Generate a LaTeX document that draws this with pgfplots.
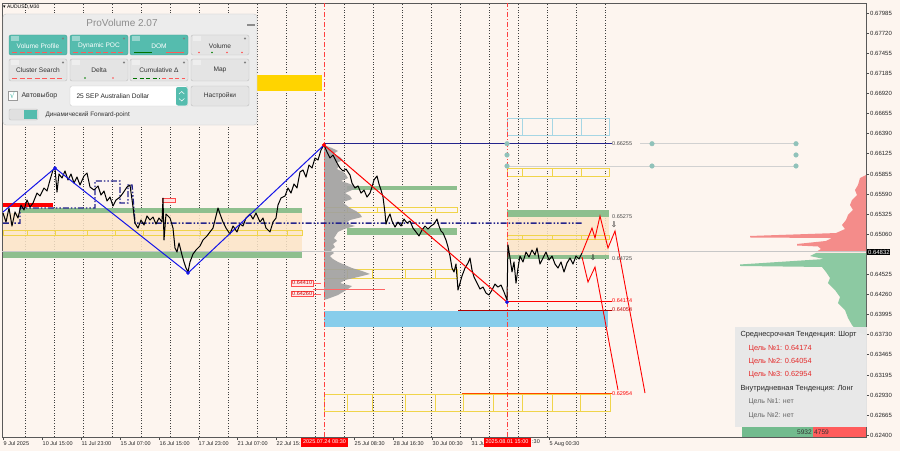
\documentclass[border=0pt]{standalone}
\usepackage{fontspec}
\setmainfont{Liberation Sans}
\newfontfamily\sym{DejaVu Sans}
\usepackage{pgfplots}
\pgfplotsset{compat=1.18}
\newcommand{\fs}[1]{\fontsize{#1}{#1}\selectfont}
\newcommand{\rect}[5]{\addplot[#5] coordinates {(#1,#2) (#3,#2) (#3,#4) (#1,#4)} -- cycle;}
\definecolor{bgc}{HTML}{FDF5EF}
\definecolor{gband}{HTML}{8EBF8E}
\definecolor{peach}{HTML}{FCE5C8}
\definecolor{ybox}{HTML}{F0D44A}
\definecolor{lblue}{HTML}{87CDEB}
\definecolor{lbbox}{HTML}{A6D6E4}
\definecolor{gold}{HTML}{FFD400}
\definecolor{navy}{HTML}{24248C}
\definecolor{zz}{HTML}{1414E8}
\definecolor{tealb}{HTML}{55BCAE}
\definecolor{dotc}{HTML}{90C2BA}
\definecolor{pgrey}{HTML}{A0A0A0}
\definecolor{vred}{HTML}{F48C8A}
\definecolor{vgreen}{HTML}{8CC9A2}
\definecolor{barg}{HTML}{72BB8E}
\definecolor{barr}{HTML}{FF5C5C}
\definecolor{panelbg}{HTML}{ECECEC}
\definecolor{btng}{HTML}{E4E4E4}
\definecolor{tred}{HTML}{E42A2A}
\begin{document}
\begin{tikzpicture}
\useasboundingbox (0,0) rectangle (900pt,451pt);
\fill[bgc] (0,0) rectangle (900pt,451pt);
\begin{axis}[
  at={(2pt,14pt)}, anchor=south west,
  scale only axis, width=864pt, height=434pt,
  xmin=2, xmax=866, ymin=0.62374, ymax=0.68117,
  clip=false, scaled y ticks=false,
  axis line style={black!65, line width=0.6pt},
  tick align=outside, major tick length=3pt,
  tick style={black!70, line width=0.5pt},
  xtick pos=left, ytick pos=right, yticklabel pos=right,
  xtick={3,42,81,120,159,198,237,276,354,393,432,471,549},
  xticklabels={9 Jul 2025,10 Jul 15:00,11 Jul 23:00,15 Jul 07:00,16 Jul 15:00,17 Jul 23:00,21 Jul 07:00,22 Jul 15:,25 Jul 08:30,28 Jul 16:30,30 Jul 00:30,31 Ju,5 Aug 00:30},
  xticklabel style={anchor=north west, font=\fs{5.5}, text=black!85, inner sep=1pt, xshift=-0.5pt},
  ytick={0.624,0.62665,0.6293,0.63195,0.63465,0.6373,0.63995,0.6426,0.64525,0.6506,0.65325,0.6559,0.65855,0.66125,0.6639,0.66655,0.6692,0.67185,0.67455,0.6772,0.67985},
  yticklabels={0.62400,0.62665,0.62930,0.63195,0.63465,0.63730,0.63995,0.64260,0.64525,0.65060,0.65325,0.65590,0.65855,0.66125,0.66390,0.66655,0.66920,0.67185,0.67455,0.67720,0.67985},
  yticklabel style={anchor=west, font=\fs{6}, text=black!85, inner sep=1pt},
  extra x ticks={25,54,83,112,141,170,199,228,257,286,315,344,373,402,431,460,489,518,547,576,605},
  extra x tick labels={},
  extra x tick style={grid=major, major tick length=0pt},
  major grid style={black!75, dash pattern=on 1pt off 1.6pt, line width=0.5pt},
]
% ---- zones
\rect{3}{0.65338}{302}{0.64822}{fill=peach, draw=none, fill opacity=0.85}
\rect{20}{0.65404}{302}{0.65338}{fill=gband, draw=none}
\rect{3}{0.64835}{302}{0.64743}{fill=gband, draw=none}
\rect{347}{0.65696}{457}{0.65642}{fill=gband, draw=none}
\rect{347}{0.65139}{457}{0.65047}{fill=gband, draw=none}
\rect{507}{0.65285}{609}{0.64782}{fill=peach, draw=none, fill opacity=0.85}
\rect{507}{0.65378}{609}{0.65285}{fill=gband, draw=none}
\rect{507}{0.64782}{609}{0.64729}{fill=gband, draw=none}
\rect{324}{0.64041}{608}{0.63829}{fill=lblue, draw=none}
\rect{255}{0.67164}{322}{0.66953}{fill=gold, draw=none}
% ---- yellow boxes, left row
\rect{3}{0.65113}{27}{0.65047}{draw=ybox}
\rect{27}{0.65113}{55}{0.65047}{draw=ybox}
\rect{55}{0.65113}{87}{0.65047}{draw=ybox}
\rect{87}{0.65113}{115}{0.65047}{draw=ybox}
\rect{115}{0.65113}{143}{0.65047}{draw=ybox}
\rect{143}{0.65113}{173}{0.65047}{draw=ybox}
\rect{173}{0.65113}{200}{0.65047}{draw=ybox}
\rect{200}{0.65113}{228}{0.65047}{draw=ybox}
\rect{228}{0.65113}{257}{0.65047}{draw=ybox}
\rect{257}{0.65113}{287}{0.65047}{draw=ybox}
\rect{287}{0.65113}{302}{0.65047}{draw=ybox}
% middle rows
\rect{325}{0.65417}{347}{0.65352}{draw=ybox}
\rect{347}{0.65417}{377}{0.65352}{draw=ybox}
\rect{377}{0.65417}{435}{0.65352}{draw=ybox}
\rect{435}{0.65417}{457}{0.65352}{draw=ybox}
\rect{325}{0.64597}{347}{0.64478}{draw=ybox}
\rect{347}{0.64597}{372}{0.64478}{draw=ybox}
\rect{372}{0.64597}{405}{0.64478}{draw=ybox}
\rect{405}{0.64597}{435}{0.64478}{draw=ybox}
\rect{435}{0.64597}{457}{0.64478}{draw=ybox}
% forecast boxes
\rect{507}{0.66596}{522}{0.66371}{draw=lbbox}
\rect{522}{0.66596}{552}{0.66371}{draw=lbbox}
\rect{552}{0.66596}{581}{0.66371}{draw=lbbox}
\rect{581}{0.66596}{609}{0.66371}{draw=lbbox}
\rect{507}{0.65934}{522}{0.65828}{draw=ybox}
\rect{522}{0.65934}{552}{0.65828}{draw=ybox}
\rect{552}{0.65934}{581}{0.65828}{draw=ybox}
\rect{581}{0.65934}{609}{0.65828}{draw=ybox}
\rect{507}{0.65047}{522}{0.64994}{draw=ybox}
\rect{522}{0.65047}{552}{0.64994}{draw=ybox}
\rect{552}{0.65047}{581}{0.64994}{draw=ybox}
\rect{581}{0.65047}{609}{0.64994}{draw=ybox}
% bottom row
\rect{324}{0.62943}{347}{0.62718}{draw=ybox}
\rect{347}{0.62943}{372}{0.62718}{draw=ybox}
\rect{372}{0.62943}{405}{0.62718}{draw=ybox}
\rect{405}{0.62943}{435}{0.62718}{draw=ybox}
\rect{435}{0.62943}{463}{0.62718}{draw=ybox}
\rect{463}{0.62943}{493}{0.62718}{draw=ybox}
\rect{493}{0.62943}{522}{0.62718}{draw=ybox}
\rect{522}{0.62943}{552}{0.62718}{draw=ybox}
\rect{552}{0.62943}{580}{0.62718}{draw=ybox}
\rect{580}{0.62943}{610}{0.62718}{draw=ybox}
% ---- volume profile (session)
\addplot[fill=pgrey, draw=none, fill opacity=0.9] coordinates {(324,0.66238)(332,0.66198)(338,0.66159)(333,0.66119)(340,0.66079)(343,0.66039)(336,0.65999)(339,0.65960)(337,0.65920)(343,0.65881)(346,0.65841)(348,0.65801)(341,0.65762)(350,0.65722)(357,0.65682)(352,0.65642)(345,0.65602)(350,0.65563)(352,0.65523)(343,0.65483)(346,0.65444)(350,0.65404)(356,0.65364)(360,0.65325)(362,0.65285)(350,0.65245)(346,0.65205)(355,0.65166)(344,0.65126)(338,0.65087)(336,0.65047)(334,0.65007)(337,0.64968)(333,0.64928)(335,0.64888)(331,0.64848)(334,0.64808)(330,0.64769)(333,0.64729)(338,0.64690)(345,0.64650)(352,0.64610)(362,0.64571)(370,0.64531)(358,0.64491)(345,0.64451)(340,0.64411)(352,0.64372)(348,0.64332)(343,0.64293)(338,0.64253)(330,0.64213)(324,0.64187)} -- cycle;
% ---- right-side profile
\addplot[fill=vred, draw=none] coordinates {(866,0.65841)(860,0.65801)(858,0.65709)(855,0.65642)(857,0.65576)(852,0.65510)(850,0.65444)(853,0.65378)(848,0.65312)(846,0.65245)(842,0.65179)(845,0.65126)(836,0.65073)(750,0.65034)(750,0.65014)(832,0.65007)(826,0.64968)(797,0.64928)(797,0.64908)(818,0.64895)(821,0.64862)(816,0.64822)(866,0.64822)} -- cycle;
\addplot[fill=vgreen, draw=none] coordinates {(866,0.64808)(816,0.64808)(810,0.64769)(824,0.64729)(740,0.64657)(740,0.64637)(822,0.64624)(826,0.64558)(830,0.64478)(828,0.64411)(835,0.64319)(840,0.64226)(838,0.64147)(845,0.64054)(848,0.63949)(852,0.63856)(858,0.63763)(866,0.63723)} -- cycle;
% ---- verticals
\addplot[red!75, line width=0.6pt, dash pattern=on 5pt off 2pt on 1pt off 2pt] coordinates {(324,0.62374)(324,0.68117)};
\addplot[red!75, line width=0.6pt, dash pattern=on 5pt off 2pt on 1pt off 2pt] coordinates {(507,0.62374)(507,0.68117)};
% ---- levels
\addplot[black!22, line width=0.5pt] coordinates {(2,0.64832)(866,0.64832)};
\addplot[navy, line width=0.8pt] coordinates {(324,0.66255)(612,0.66255)};
\addplot[black!18, line width=0.9pt] coordinates {(640,0.66255)(796,0.66255)};
\addplot[black!18, line width=0.9pt] coordinates {(507,0.65960)(796,0.65960)};
\addplot[only marks, mark=*, mark size=2.3pt, dotc] coordinates {(507,0.66255)(507,0.66106)(507,0.65960)(652,0.66255)(652,0.65960)(796,0.66255)(796,0.66106)(796,0.65960)};
\addplot[red, line width=0.9pt] coordinates {(507,0.64174)(612,0.64174)};
\addplot[red!70!black, line width=0.9pt] coordinates {(458,0.64054)(612,0.64054)};
\addplot[orange!55!red, line width=0.9pt] coordinates {(462,0.62954)(612,0.62954)};
\addplot[red!60, line width=0.5pt] coordinates {(313,0.64332)(385,0.64332)};
\addplot[red!60, line width=0.5pt] coordinates {(313,0.64411)(321,0.64411)};
\addplot[red!60, line width=0.5pt] coordinates {(313,0.64266)(321,0.64266)};
% ---- dynamic POC
\addplot[navy, line width=1.4pt, dash pattern=on 6pt off 2pt on 1.5pt off 2pt on 1.5pt off 2pt] coordinates {(3,0.65205)(20,0.65205)(20,0.65404)(95,0.65404)(95,0.65762)(120,0.65762)(120,0.65470)(128,0.65470)(128,0.65709)(132,0.65709)(135,0.65205)(582,0.65205)};
\addplot[red, line width=3.5pt] coordinates {(3,0.65444)(53,0.65444)};
\rect{162}{0.65536}{175}{0.65483}{draw=red!70, fill=red!12}
% ---- price
\addplot[black, line width=1pt, line join=round] coordinates {
(3,0.65338)(6,0.65219)(9,0.65404)(12,0.65166)(15,0.65352)(18,0.65272)(21,0.65444)(24,0.65378)(27,0.65510)(30,0.65417)(33,0.65470)(37,0.65602)(40,0.65563)(44,0.65669)(47,0.65629)(50,0.65775)(53,0.65907)(55,0.65933)(57,0.65616)(59,0.65854)(62,0.65801)(65,0.65894)(68,0.65775)(71,0.65854)(74,0.65735)(77,0.65814)(80,0.65709)(84,0.65828)(87,0.65867)(90,0.65682)(94,0.65642)(98,0.65696)(101,0.65576)(104,0.65629)(107,0.65497)(110,0.65549)(113,0.65431)(116,0.65510)(120,0.65549)(123,0.65602)(127,0.65682)(130,0.65709)(133,0.65417)(135,0.65205)(138,0.65139)(141,0.65245)(144,0.65179)(147,0.65299)(150,0.65245)(153,0.65285)(156,0.65192)(159,0.65272)(162,0.65219)(163,0.65536)(164,0.64981)(166,0.65325)(170,0.65272)(173,0.65139)(175,0.64875)(177,0.64822)(179,0.64941)(182,0.64782)(184,0.64690)(186,0.64610)(188,0.64558)(190,0.64690)(193,0.64795)(196,0.64848)(200,0.64902)(203,0.64981)(207,0.65034)(210,0.65087)(213,0.65139)(216,0.65299)(218,0.65404)(220,0.65325)(223,0.65219)(226,0.65139)(230,0.65060)(233,0.65166)(237,0.65087)(240,0.65192)(243,0.65166)(246,0.65272)(250,0.65325)(253,0.65258)(256,0.65338)(260,0.65219)(263,0.65272)(266,0.65139)(270,0.65087)(273,0.65219)(276,0.65272)(278,0.65444)(281,0.65536)(285,0.65563)(288,0.65669)(291,0.65602)(294,0.65722)(297,0.65669)(300,0.65881)(303,0.65907)(306,0.65814)(309,0.65973)(312,0.65933)(315,0.66066)(318,0.66039)(321,0.66172)(324,0.66238)
(327,0.66146)(330,0.66066)(333,0.66106)(337,0.65999)(340,0.65933)(343,0.65894)(346,0.65920)(350,0.65841)(352,0.65735)(355,0.65669)(358,0.65696)(361,0.65602)(364,0.65642)(367,0.65549)(370,0.65602)(372,0.65682)(374,0.65775)(377,0.65828)(379,0.65722)(381,0.65642)(383,0.65549)(385,0.65338)(386,0.65192)(388,0.65272)(390,0.65325)(392,0.65232)(395,0.65152)(398,0.65219)(401,0.65166)(404,0.65258)(407,0.65205)(410,0.65232)(413,0.65139)(416,0.65087)(419,0.65034)(422,0.65113)(425,0.65166)(428,0.65126)(431,0.65166)(434,0.65192)(437,0.65258)(439,0.65166)(441,0.65100)(443,0.65073)(446,0.64981)(448,0.64888)(450,0.64769)(452,0.64610)(454,0.64558)(456,0.64663)(458,0.64319)(460,0.64411)(462,0.64505)(465,0.64610)(468,0.64676)(470,0.64742)(472,0.64584)(474,0.64491)(477,0.64411)(480,0.64332)(483,0.64358)(486,0.64279)(489,0.64253)(492,0.64319)(495,0.64398)(498,0.64358)(501,0.64385)(504,0.64293)(507,0.64187)
(508,0.64915)(510,0.64742)(512,0.64558)(514,0.64690)(516,0.64411)(518,0.64610)(520,0.64769)(523,0.64690)(526,0.64822)(529,0.64755)(532,0.64848)(535,0.64782)(537,0.64875)(540,0.64663)(543,0.64742)(546,0.64822)(549,0.64716)(552,0.64769)(555,0.64663)(558,0.64610)(561,0.64690)(564,0.64558)(567,0.64676)(570,0.64742)(573,0.64663)(576,0.64769)(579,0.64729)(582,0.64808)};
% ---- zigzag, trend, forecast
\addplot[zz, line width=1pt] coordinates {(3,0.65351)(55,0.65933)(188,0.64544)(324,0.66238)};
\addplot[red, line width=1pt] coordinates {(324,0.66238)(507,0.64160)};
\addplot[red, line width=0.9pt] coordinates {(582,0.64808)(592,0.65139)(595,0.65007)(600,0.65298)(608,0.64875)(615,0.65100)(645,0.62956)};
\addplot[red, line width=0.9pt] coordinates {(582,0.64756)(588,0.64425)(595,0.64623)(618,0.62996)};
\addplot[only marks, mark=*, mark size=1.7pt, zz] coordinates {(55,0.65933)(188,0.64544)(507,0.64160)};
\addplot[only marks, mark=*, mark size=1.9pt, red] coordinates {(324,0.66238)};
\addplot[only marks, mark=text, text mark={\fs{7.5}\sym ⇩}, red!55] coordinates {(614,0.65179)(593,0.64742)};
% ---- level labels
\node[anchor=west, font=\fs{5.5}, text=black!70, inner sep=1pt] at (axis cs:611,0.66255) {0.66255};
\node[anchor=west, font=\fs{5.5}, text=black!70, inner sep=1pt] at (axis cs:611,0.65285) {0.65275};
\node[anchor=west, font=\fs{5.5}, text=black!70, inner sep=1pt] at (axis cs:611,0.64729) {0.64725};
\node[anchor=west, font=\fs{5.5}, text=red, inner sep=1pt] at (axis cs:611,0.64174) {0.64174};
\node[anchor=west, font=\fs{5.5}, text=red!75!black, inner sep=1pt] at (axis cs:611,0.64054) {0.64054};
\node[anchor=west, font=\fs{5.5}, text=red, inner sep=1pt] at (axis cs:611,0.62954) {0.62954};
\node[anchor=east, draw=red!70, fill=red!8, text=red!80!black, font=\fs{5.5}, inner sep=0.7pt] at (axis cs:313,0.64411) {0.64410};
\node[anchor=east, draw=red!70, fill=red!8, text=red!80!black, font=\fs{5.5}, inner sep=0.7pt] at (axis cs:313,0.64266) {0.64260};
\end{axis}
% ================= overlays in pixel coordinates
\begin{scope}[shift={(0pt,451pt)}, x=1pt, y=-1pt]
\node[anchor=west, font=\fs{5}, inner sep=0pt] at (3,7) {{\sym ▾} AUDUSD,M30};
% panel
\draw[draw=black!22, fill=panelbg, rounded corners=3pt] (3,14) rectangle (257,125);
\node[text=black!45, font=\fs{10}] at (122,23) {ProVolume 2.07};
\draw[black!45, line width=1.2pt] (247,25) -- (255,25);
\foreach \a/\b/\t in {9/67/Volume Profile, 70/128/Dynamic POC, 130/188/DOM} {
  \draw[fill=tealb, draw=tealb!85!black, rounded corners=2pt] (\a,35) rectangle (\b,55);
  \node[text=white, font=\fs{6.6}] at ({(\a+\b)/2},46) {\t};
}
\draw[fill=btng, draw=black!25, rounded corners=2pt] (191,35) rectangle (249,55);
\node[text=black!80, font=\fs{6.6}] at (220,46) {Volume};
\foreach \a/\b/\t in {9/67/Cluster Search, 70/128/Delta, 130/188/Cumulative Δ, 191/249/Map} {
  \draw[fill=btng, draw=black!25, rounded corners=2pt] (\a,59) rectangle (\b,81);
  \node[text=black!80, font=\fs{6.6}] at ({(\a+\b)/2},70) {\t};
}
\foreach \a/\b/\y in {9/67/35,70/128/35,130/188/35,191/249/35,9/67/59,70/128/59,130/188/59,191/249/59} {
  \fill[black!50] (\b-4,\y+3.5) circle (1.2pt);
  \fill[white, opacity=0.4] (\a+2,\y+1.5) rectangle (\a+10,\y+6);
}
\draw[red!65, line width=0.8pt, dash pattern=on 5pt off 2.5pt] (12,52.5)--(64,52.5);
\draw[red!65, line width=0.8pt, dash pattern=on 5pt off 2.5pt] (73,52.5)--(125,52.5);
\draw[green!45!black, line width=0.8pt] (134,52.5)--(152,52.5);
\draw[red!65, line width=0.8pt] (166,52.5)--(184,52.5);
\fill[red!70] (199,52.5) circle (0.9pt); \fill[green!50!black] (212,52.5) circle (0.9pt);
\fill[red!70] (227,52.5) circle (0.9pt); \fill[red!70] (242,52.5) circle (0.9pt);
\draw[red!65, line width=0.8pt, dash pattern=on 5pt off 2.5pt] (12,78)--(64,78);
\fill[green!50!black] (85,78) circle (0.9pt); \fill[red!70] (113,78) circle (0.9pt);
\draw[green!45!black, line width=0.8pt, dash pattern=on 4pt off 2.5pt] (133,78)--(160,78);
\draw[red!65, line width=0.8pt, dash pattern=on 4pt off 2.5pt] (162,78)--(185,78);
% row 3
\draw[black!40, fill=white] (8,91) rectangle (17,100);
\node[text=tealb, font=\fs{8}] at (12.5,95) {\sym √};
\node[anchor=west, text=black!80, font=\fs{7}] at (18,96) {Автовыбор};
\draw[black!20, fill=white, rounded corners=2pt] (70,86) rectangle (188,106);
\fill[tealb, rounded corners=2pt] (176,87) rectangle (187.5,105.5);
\draw[white, line width=0.5pt] (179,94)--(181.7,91.5)--(184.4,94);
\draw[white, line width=0.5pt] (179,98.5)--(181.7,101)--(184.4,98.5);
\node[anchor=west, text=black!85, font=\fs{6.6}] at (73,96) {25 SEP Australian Dollar};
\draw[fill=btng, draw=black!25, rounded corners=2pt] (191,86) rectangle (249,106);
\node[text=black!80, font=\fs{6.6}] at (220,96) {Настройки};
\draw[black!25, fill=black!12, rounded corners=2pt] (9,109) rectangle (38,120);
\fill[tealb] (24,110) rectangle (37,119);
\node[anchor=west, text=black!80, font=\fs{6.4}] at (42,114.5) {Динамический Forward-point};
% info box
\fill[black!9, opacity=0.96] (735,327) rectangle (867,427);
\node[anchor=west, text=black!85, font=\fs{7.4}] at (737,335) {Среднесрочная Тенденция: Шорт};
\node[anchor=west, text=tred, font=\fs{7.4}] at (745,348.5) {Цель №1: 0.64174};
\node[anchor=west, text=tred, font=\fs{7.4}] at (745,362) {Цель №2: 0.64054};
\node[anchor=west, text=tred, font=\fs{7.4}] at (745,375) {Цель №3: 0.62954};
\node[anchor=west, text=black!85, font=\fs{7.4}] at (737,389) {Внутридневная Тенденция: Лонг};
\node[anchor=west, text=black!60, font=\fs{7}] at (745,402) {Цель №1: нет};
\node[anchor=west, text=black!60, font=\fs{7}] at (745,415.5) {Цель №2: нет};
\fill[barg] (742,427) rectangle (813,437);
\fill[barr] (813,427) rectangle (866,437);
\node[anchor=east, text=black!80, font=\fs{6.6}, inner sep=0.5pt] at (812.5,432) {5932};
\node[anchor=west, text=black!80, font=\fs{6.6}, inner sep=0.5pt] at (813.5,432) {4759};
% axis markers
\node[anchor=west, fill=black, text=white, font=\fs{6}, inner sep=0.8pt] at (867,252) {0.64832};
\node[fill=red, text=white, font=\fs{5.5}, inner sep=1pt, minimum height=9pt, minimum width=47pt] at (324.5,442) {2025.07.24 08:30};
\node[fill=red, text=white, font=\fs{5.5}, inner sep=1pt, minimum height=9pt, minimum width=47pt] at (507,442) {2025.08.01 15:00};
\node[anchor=west, text=black!85, font=\fs{5.5}, inner sep=1pt] at (531,442) {:30};
\end{scope}
\end{tikzpicture}
\end{document}
